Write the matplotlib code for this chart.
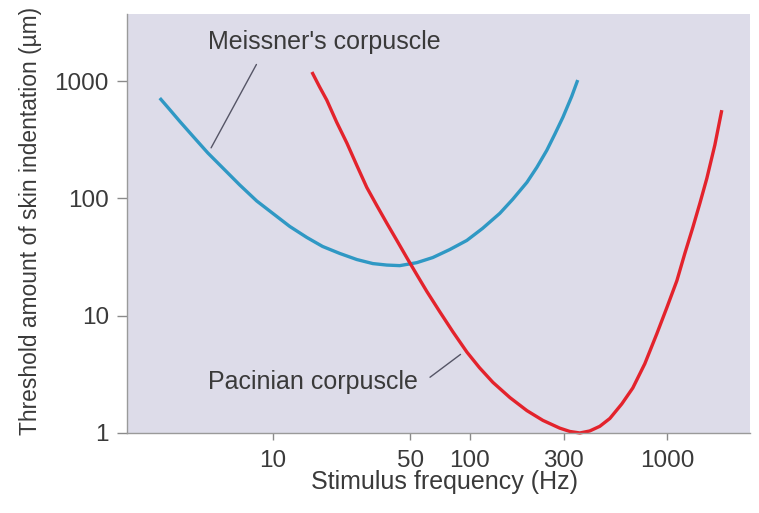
import numpy as np
import matplotlib
matplotlib.use("Agg")
import matplotlib.pyplot as plt

plt.rcParams['font.family'] = ['Liberation Sans', 'DejaVu Sans']

# values (log-log)
meissner_freq = [2.67, 3.00, 3.37, 3.93, 4.68, 5.57, 6.80, 8.29, 10.0, 12.2, 14.9, 17.9, 21.9, 26.7,
                 32.2, 37.9, 44.1, 53.8, 64.9, 79.1, 96.6, 116, 142, 165, 195, 219, 246, 270, 297, 329, 353]
meissner_thr = [716, 571, 454, 339, 244, 182, 130, 95, 74.5, 57.6, 46.4, 38.9, 33.9, 30.1,
                27.8, 27.0, 26.7, 28.3, 31.3, 36.6, 43.8, 55.4, 74.5, 98, 137, 184, 257, 352, 492, 740, 1020]

pacinian_freq = [15.8, 17.3, 18.8, 21.1, 23.8, 26.7, 30.0, 33.7, 37.9, 42.6, 47.9, 53.8, 60.5, 70.4,
                 82.0, 96.6, 112, 131, 160, 195, 235, 286, 322, 362, 406, 457, 514, 591, 672, 773,
                 890, 1000, 1125, 1234, 1355, 1471, 1596, 1753, 1901]
pacinian_thr = [1194, 889, 688, 446, 295, 191, 124, 87.1, 61.5, 43.9, 31.2, 22.4, 16.1, 10.8,
                7.3, 4.9, 3.6, 2.7, 2.0, 1.55, 1.28, 1.10, 1.03, 1.0, 1.04, 1.14, 1.33, 1.77, 2.42, 3.89,
                7.02, 11.7, 19.9, 33.9, 56.5, 90.6, 148, 285, 565]

xticks = [10, 50, 100, 300, 1000]
yticks = [1, 10, 100, 1000]

txt_col = '#3a3a3a'
bg_col = '#dddce9'
blue = '#2f98c4'
red = '#e3232c'

fig = plt.figure(figsize=(7.59, 5.13), dpi=100)
ax = fig.add_axes([0.1673, 0.156, 0.8207, 0.817])
ax.set_facecolor(bg_col)

ax.plot(meissner_freq, meissner_thr, color=blue, lw=2.4, solid_capstyle='butt', solid_joinstyle='round')
ax.plot(pacinian_freq, pacinian_thr, color=red, lw=2.4, solid_capstyle='butt', solid_joinstyle='round',
        clip_on=False)

ax.set_xscale('log')
ax.set_yscale('log')
ax.set_xlim(1.82, 2640)
ax.set_ylim(1, 3740)

ax.set_xticks(xticks)
ax.set_xticklabels([str(t) for t in xticks])
ax.set_yticks(yticks)
ax.set_yticklabels([str(t) for t in yticks])
ax.minorticks_off()

for s in ['top', 'right']:
    ax.spines[s].set_visible(False)
for s in ['left', 'bottom']:
    ax.spines[s].set_color('#9a9a9a')
    ax.spines[s].set_linewidth(1.0)

ax.tick_params(axis='y', length=7, width=1, color='#8a8a8a', pad=6, labelsize=17.5, labelcolor=txt_col)
ax.tick_params(axis='x', length=5, width=1, color='#8a8a8a', pad=7, labelsize=17.5, labelcolor=txt_col)

ax.set_xlabel('Stimulus frequency (Hz)', fontsize=18, color=txt_col)
ax.set_ylabel('Threshold amount of skin indentation (µm)', fontsize=16.4, color=txt_col)
ax.xaxis.set_label_coords(0.509, -0.088)
ax.yaxis.set_label_coords(-0.137, 0.506)

# labels with leader lines
ax.text(4.68, 2154, "Meissner's corpuscle", fontsize=18, color=txt_col, va='center', ha='left')
ax.annotate('', xy=(4.79, 257), xytext=(8.39, 1453),
            arrowprops=dict(arrowstyle='-', color='#555566', lw=1))
ax.text(4.68, 2.73, 'Pacinian corpuscle', fontsize=18, color=txt_col, va='center', ha='left')
ax.annotate('', xy=(92.1, 4.83), xytext=(61.2, 2.89),
            arrowprops=dict(arrowstyle='-', color='#555566', lw=1))

fig.savefig('out.png', dpi=100)
